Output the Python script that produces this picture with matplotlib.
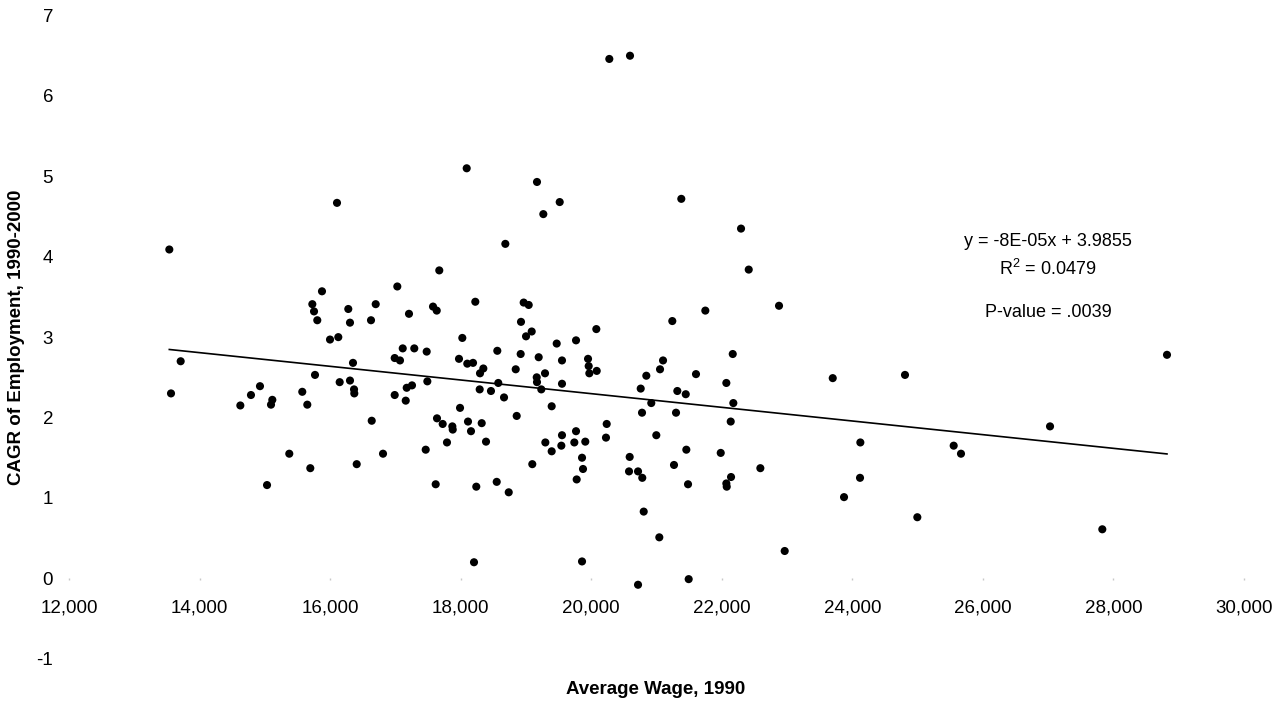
import matplotlib
matplotlib.use("Agg")
import matplotlib.pyplot as plt
import matplotlib.ticker as mticker

plt.rcParams['font.family'] = ['Liberation Sans', 'DejaVu Sans']
plt.rcParams['mathtext.default'] = 'regular'
plt.rcParams['axes.unicode_minus'] = False

# average wage 1990 vs CAGR of employment 1990-2000
wage = [13537, 16106, 13711, 13563, 15876, 15728, 15754, 15804, 16279, 16305,
        16699, 16627, 17030, 15999, 16126, 16351, 15769, 16147, 16305, 16367,
        16371, 14926, 14788, 14625, 15115, 15095, 15574, 15651, 16638, 15375,
        15697, 16408, 16811, 15034, 18093, 19170, 19518, 19267, 18685, 17673,
        17577, 17634, 17209, 18225, 18966, 19043, 18925, 19089, 19002, 18026,
        19472, 19768, 20079, 17113, 17290, 17480, 16990, 17071, 17975, 18102,
        18190, 18562, 18920, 19196, 19553, 19952, 19962, 19972, 20085, 18348,
        18297, 18844, 19293, 19166, 19170, 17490, 18577, 19236, 19553, 17174,
        17255, 16990, 17159, 18292, 18465, 18665, 17991, 19395, 17638, 17725,
        17873, 17879, 18113, 18159, 18323, 18859, 17465, 17791, 18389, 19298,
        19553, 19768, 19742, 19910, 19543, 19395, 20238, 20227, 19860, 19875,
        19778, 19098, 17618, 18240, 18553, 18737, 18205, 19860, 21381, 22296,
        22414, 22878, 21749, 21243, 22169, 21101, 21055, 20845, 21606, 22071,
        20759, 21320, 21449, 20921, 20779, 21300, 22178, 22138, 20998, 20590,
        21458, 21985, 21269, 20580, 20718, 20783, 21484, 22143, 22071, 22077,
        22592, 20805, 21044, 22965, 21494, 20718, 20278, 20595, 28822, 23701,
        24808, 27030, 24124, 25554, 25666, 24119, 23874, 24997, 27831]
cagr = [4.09, 4.67, 2.70, 2.30, 3.57, 3.41, 3.32, 3.21, 3.35, 3.18,
        3.41, 3.21, 3.63, 2.97, 3.00, 2.68, 2.53, 2.44, 2.46, 2.35,
        2.30, 2.39, 2.28, 2.15, 2.22, 2.16, 2.32, 2.16, 1.96, 1.55,
        1.37, 1.42, 1.55, 1.16, 5.10, 4.93, 4.68, 4.53, 4.16, 3.83,
        3.38, 3.33, 3.29, 3.44, 3.43, 3.40, 3.19, 3.07, 3.01, 2.99,
        2.92, 2.96, 3.10, 2.86, 2.86, 2.82, 2.74, 2.71, 2.73, 2.67,
        2.68, 2.83, 2.79, 2.75, 2.71, 2.73, 2.64, 2.55, 2.58, 2.61,
        2.55, 2.60, 2.55, 2.50, 2.44, 2.45, 2.43, 2.35, 2.42, 2.37,
        2.40, 2.28, 2.21, 2.35, 2.33, 2.25, 2.12, 2.14, 1.99, 1.92,
        1.89, 1.85, 1.95, 1.83, 1.93, 2.02, 1.60, 1.69, 1.70, 1.69,
        1.78, 1.83, 1.69, 1.70, 1.65, 1.58, 1.92, 1.75, 1.50, 1.36,
        1.23, 1.42, 1.17, 1.14, 1.20, 1.07, 0.20, 0.21, 4.72, 4.35,
        3.84, 3.39, 3.33, 3.20, 2.79, 2.71, 2.60, 2.52, 2.54, 2.43,
        2.36, 2.33, 2.29, 2.18, 2.06, 2.06, 2.18, 1.95, 1.78, 1.51,
        1.60, 1.56, 1.41, 1.33, 1.33, 1.25, 1.17, 1.26, 1.18, 1.14,
        1.37, 0.83, 0.51, 0.34, -0.01, -0.08, 6.46, 6.50, 2.78, 2.49,
        2.53, 1.89, 1.69, 1.65, 1.55, 1.25, 1.01, 0.76, 0.61]

# linear trend as drawn in the original
trend_slope = -8.5e-5
trend_intercept = 3.997

x_ticks = [12000, 14000, 16000, 18000, 20000, 22000, 24000, 26000, 28000, 30000]
y_ticks = [-1, 0, 1, 2, 3, 4, 5, 6, 7]

fig = plt.figure(figsize=(12.86, 7.09), dpi=100)
ax = fig.add_axes([0.05365, 0.0709, 0.9136, 0.9072])

ax.scatter(wage, cagr, s=34, color='black', edgecolors='none', zorder=3)

x0, x1 = min(wage), max(wage)
ax.plot([x0, x1], [trend_intercept + trend_slope * x0, trend_intercept + trend_slope * x1],
        color='black', linewidth=1.2, zorder=2)

ax.set_xlim(12000, 30000)
ax.set_ylim(-1, 7)
ax.set_xticks(x_ticks)
ax.set_yticks(y_ticks)
ax.xaxis.set_major_formatter(mticker.FuncFormatter(lambda v, p: f"{int(v):,}"))

for s in ax.spines.values():
    s.set_visible(False)
ax.spines['bottom'].set_position(('data', 0))

ax.tick_params(axis='x', length=1.5, width=1, color='#c8c8c8', pad=14, labelsize=13.5)
ax.tick_params(axis='y', length=0, pad=11.5, labelsize=13.5)

ax.text(27000, 4.195, "y = -8E-05x + 3.9855", ha='center', va='center', fontsize=13)
ax.text(27000, 3.847, "R$^{2}$ = 0.0479", ha='center', va='center', fontsize=13)
ax.text(27000, 3.312, "P-value = .0039", ha='center', va='center', fontsize=13)

fig.text(17 / 1286, 1 - 337 / 709, "CAGR of Employment, 1990-2000", rotation=90,
         ha='center', va='center', fontsize=13.5, fontweight='bold')
fig.text(656 / 1286, 1 - 690 / 709, "Average Wage, 1990", ha='center', va='center',
         fontsize=13.5, fontweight='bold')

fig.savefig("out.png", dpi=100)
